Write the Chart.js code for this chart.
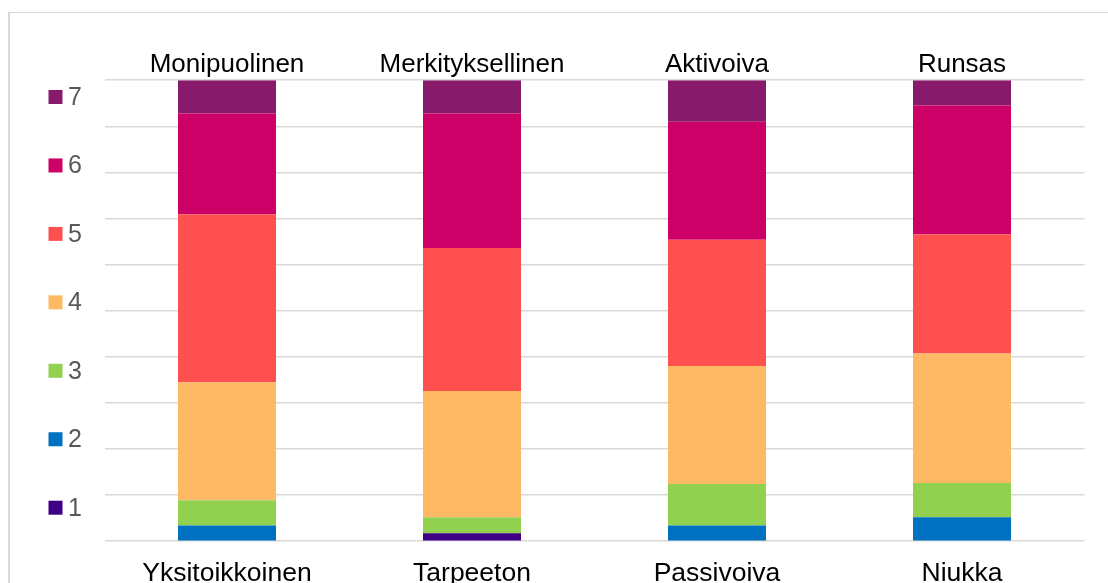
<!DOCTYPE html>
<html>
<head>
<meta charset="utf-8">
<script src="https://cdn.jsdelivr.net/npm/chart.js@4/dist/chart.umd.min.js"></script>
<style>
  html, body { margin: 0; padding: 0; background: #fff; overflow: hidden; }
  #frame { position: absolute; left: 8px; top: 12px; width: 1140px; height: 640px; border: 1px solid #d9d9d9; border-left-width: 2px; }
  #wrap { position: absolute; left: 0; top: 0; width: 1108px; height: 620px; }
</style>
</head>
<body>
<div id="frame"></div>
<div id="wrap"><canvas id="chart"></canvas></div>
<script>
// kategoriat: ylä- ja alapään sanaparit
const topLabels = ['Monipuolinen', 'Merkityksellinen', 'Aktivoiva', 'Runsas'];
const bottomLabels = ['Yksitoikkoinen', 'Tarpeeton', 'Passivoiva', 'Niukka'];

// osuudet (%) asteikon kohdittain 1..7
const s1 = [0, 1.7, 0, 0];
const s2 = [3.4, 0, 3.4, 5.2];
const s3 = [5.5, 3.5, 9.0, 7.4];
const s4 = [25.6, 27.4, 25.6, 28.1];
const s5 = [36.4, 31.0, 27.4, 25.9];
const s6 = [21.9, 29.2, 25.6, 27.9];
const s7 = [7.2, 7.2, 9.0, 5.5];

const seriesNames = ['1', '2', '3', '4', '5', '6', '7'];
const seriesColors = ['#3d0085', '#0070c0', '#92d050', '#ffb864', '#ff5050', '#cc0066', '#871a6b'];

const font = 'Liberation Sans, Arial, sans-serif';

// legenda vasempaan reunaan, 7 ylimpänä
const sideLegend = {
  id: 'sideLegend',
  afterDraw(chart) {
    const ctx = chart.ctx;
    const ds = chart.data.datasets;
    ctx.save();
    ctx.font = '25px ' + font;
    ctx.textBaseline = 'middle';
    ctx.textAlign = 'left';
    for (let k = 0; k < ds.length; k++) {
      const d = ds[ds.length - 1 - k];
      const y = 97 + k * 68.45;
      ctx.fillStyle = d.backgroundColor;
      ctx.fillRect(48.5, y - 7, 14, 14);
      ctx.fillStyle = '#595959';
      ctx.fillText(d.label, 68, y + 1);
    }
    ctx.restore();
  }
};

const values = [s1, s2, s3, s4, s5, s6, s7];

new Chart(document.getElementById('chart'), {
  type: 'bar',
  data: {
    labels: bottomLabels,
    datasets: values.map((v, i) => ({
      label: seriesNames[i],
      data: v,
      backgroundColor: seriesColors[i],
      borderWidth: 0,
      categoryPercentage: 0.8,
      barPercentage: 0.5
    }))
  },
  options: {
    responsive: true,
    maintainAspectRatio: false,
    animation: false,
    layout: { padding: { left: 104.5, right: 23.5, top: 49, bottom: 13 } },
    plugins: {
      legend: { display: false },
      tooltip: { enabled: false }
    },
    scales: {
      x: {
        stacked: true,
        position: 'bottom',
        grid: { display: false, drawTicks: false },
        border: { display: false },
        ticks: { color: '#000', font: { family: font, size: 26.5 }, padding: 17, maxRotation: 0 }
      },
      x2: {
        type: 'category',
        labels: topLabels,
        position: 'top',
        offset: true,
        grid: { display: false, drawTicks: false },
        border: { display: false },
        ticks: { color: '#000', font: { family: font, size: 26 }, padding: 0, maxRotation: 0 }
      },
      y: {
        stacked: true,
        min: 0,
        max: 100,
        ticks: { display: false, stepSize: 10 },
        grid: { color: '#d9d9d9', lineWidth: 1.5, drawTicks: false },
        border: { display: false }
      }
    }
  },
  plugins: [sideLegend]
});
</script>
</body>
</html>
